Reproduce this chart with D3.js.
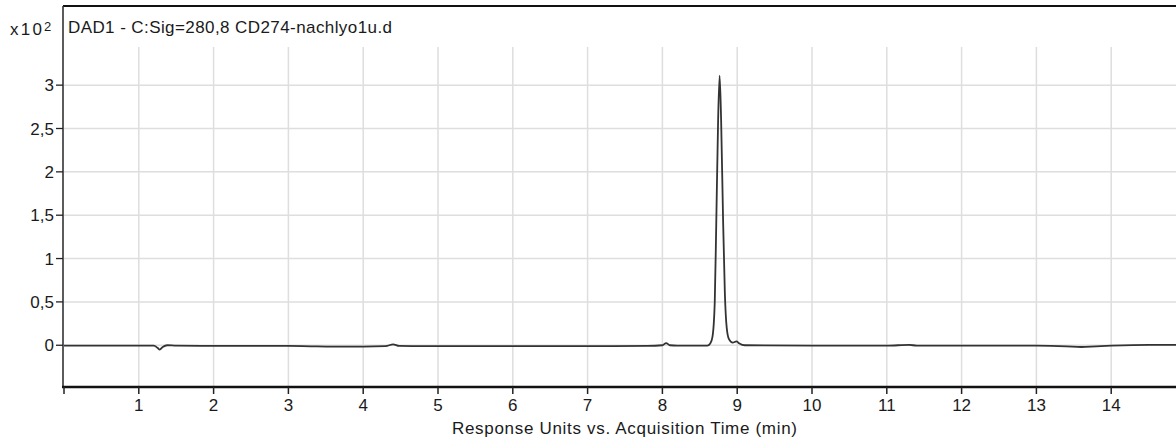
<!DOCTYPE html>
<html>
<head>
<meta charset="utf-8">
<script src="https://cdn.jsdelivr.net/npm/d3@7"></script>
<style>
  body { margin: 0; background: #fff; }
  svg { display: block; font-family: "Liberation Sans", Arial, sans-serif; }
</style>
</head>
<body>
<div id="chart"></div>
<script>
// trace: time (min) and response (x10^2)
const TIME = [0, 0.5, 1.0, 1.2, 1.25, 1.28, 1.32, 1.38, 1.5, 2.0, 2.5, 3.0, 3.3, 3.6, 4.0, 4.3, 4.4, 4.48,
  5.0, 6.0, 7.0, 7.8, 8.0, 8.05, 8.1, 8.2, 8.5, 8.6, 8.64, 8.67, 8.70, 8.72, 8.745, 8.765, 8.785, 8.81,
  8.835, 8.86, 8.89, 8.94, 8.99, 9.03, 9.1, 10, 11, 11.3, 11.4, 12, 13, 13.4, 13.6, 13.8, 14.0, 14.5, 15];
const SIGNAL = [-0.005, -0.005, -0.005, -0.005, -0.03, -0.05, -0.02, 0.0, -0.005, -0.008, -0.008, -0.008, -0.012, -0.015, -0.015, -0.01, 0.01, -0.008,
  -0.01, -0.01, -0.01, -0.008, 0.0, 0.025, 0.0, -0.005, -0.005, -0.005, 0.02, 0.1, 0.5, 1.4, 2.6, 3.11, 2.6, 1.5,
  0.6, 0.2, 0.07, 0.03, 0.045, 0.02, 0.0, -0.005, -0.005, 0.005, -0.005, -0.005, -0.005, -0.012, -0.02, -0.012, -0.005, 0.005, 0.005];

const X_TICKS = [0, 1, 2, 3, 4, 5, 6, 7, 8, 9, 10, 11, 12, 13, 14];
const Y_TICKS = [0, 0.5, 1, 1.5, 2, 2.5, 3];

const TITLE = "DAD1 - C:Sig=280,8 CD274-nachlyo1u.d";
const X_LABEL = "Response Units vs. Acquisition Time (min)";

const width = 1176, height = 441;
const left = 64, boxTop = 6, plotTop = 47, plotBottom = 386;
const fontSize = 17;

const svg = d3.select("#chart").append("svg")
  .attr("width", width)
  .attr("height", height);

const x = d3.scaleLinear().domain([0, 15]).range([left, left + 15 * 74.8]);
const y = d3.scaleLinear().domain([-0.47, 3.44]).range([plotBottom, plotTop]);

const fmt = d => String(d).replace(".", ",");

// grid
svg.append("g").selectAll("line")
  .data(X_TICKS.filter(d => d > 0))
  .enter().append("line")
  .attr("x1", d => x(d)).attr("x2", d => x(d))
  .attr("y1", plotTop).attr("y2", plotBottom)
  .attr("stroke", "#dedede").attr("stroke-width", 1.5);

svg.append("g").selectAll("line")
  .data(Y_TICKS)
  .enter().append("line")
  .attr("x1", left).attr("x2", width)
  .attr("y1", d => y(d)).attr("y2", d => y(d))
  .attr("stroke", "#dedede").attr("stroke-width", 1.5);

// trace
const line = d3.line()
  .x((d, i) => x(TIME[i]))
  .y(d => y(d))
  .curve(d3.curveMonotoneX);

svg.append("path")
  .datum(SIGNAL)
  .attr("d", line)
  .attr("fill", "none")
  .attr("stroke", "#333")
  .attr("stroke-width", 1.8);

// frame
svg.append("line")
  .attr("x1", left - 1).attr("x2", width)
  .attr("y1", boxTop).attr("y2", boxTop)
  .attr("stroke", "#111").attr("stroke-width", 2);

svg.append("line")
  .attr("x1", left - 1).attr("x2", left - 1)
  .attr("y1", boxTop).attr("y2", plotBottom + 1)
  .attr("stroke", "#333").attr("stroke-width", 1.6);

svg.append("line")
  .attr("x1", left - 2).attr("x2", width)
  .attr("y1", plotBottom + 1).attr("y2", plotBottom + 1)
  .attr("stroke", "#111").attr("stroke-width", 2.6);

// y axis
const yAxis = svg.append("g").selectAll("g")
  .data(Y_TICKS)
  .enter().append("g");

yAxis.append("line")
  .attr("x1", left - 8).attr("x2", left - 1)
  .attr("y1", d => y(d)).attr("y2", d => y(d))
  .attr("stroke", "#222").attr("stroke-width", 1.3);

yAxis.append("text")
  .attr("x", left - 10)
  .attr("y", d => y(d))
  .attr("dy", "0.36em")
  .attr("text-anchor", "end")
  .attr("font-size", fontSize)
  .attr("fill", "#1a1a1a")
  .text(fmt);

// x axis
const xAxis = svg.append("g").selectAll("g")
  .data(X_TICKS)
  .enter().append("g");

xAxis.append("line")
  .attr("x1", d => x(d)).attr("x2", d => x(d))
  .attr("y1", plotBottom + 1).attr("y2", plotBottom + 8)
  .attr("stroke", "#222").attr("stroke-width", 1.5);

xAxis.filter(d => d > 0).append("text")
  .attr("x", d => x(d))
  .attr("y", plotBottom + 25)
  .attr("text-anchor", "middle")
  .attr("font-size", fontSize)
  .attr("fill", "#1a1a1a")
  .text(fmt);

svg.append("text")
  .attr("x", 452)
  .attr("y", 434)
  .attr("font-size", fontSize)
  .attr("textLength", 345)
  .attr("lengthAdjust", "spacing")
  .attr("fill", "#1a1a1a")
  .text(X_LABEL);

// title and exponent
svg.append("text")
  .attr("x", 68)
  .attr("y", 33)
  .attr("font-size", fontSize)
  .attr("textLength", 324)
  .attr("lengthAdjust", "spacing")
  .attr("fill", "#1a1a1a")
  .text(TITLE);

svg.append("text")
  .attr("x", 10)
  .attr("y", 35)
  .attr("font-size", fontSize)
  .attr("textLength", 32)
  .attr("lengthAdjust", "spacing")
  .attr("fill", "#1a1a1a")
  .text("x10");

svg.append("text")
  .attr("x", 44)
  .attr("y", 31)
  .attr("font-size", 13)
  .attr("fill", "#1a1a1a")
  .text("2");
</script>
</body>
</html>
